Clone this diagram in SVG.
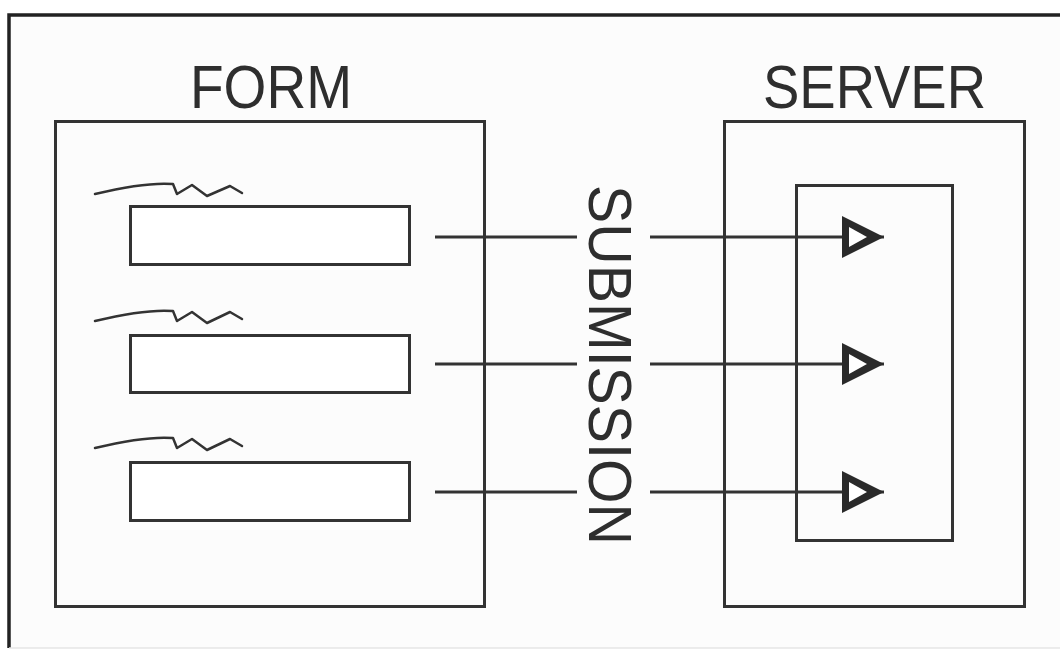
<svg xmlns="http://www.w3.org/2000/svg" width="1060" height="649" viewBox="0 0 1060 649">
<defs>
<style>
.box{fill:none;stroke:#333;stroke-width:3}
.field{fill:#fff;stroke:#333;stroke-width:3}
.scrib{fill:none;stroke:#333;stroke-width:2.5;stroke-linecap:round;stroke-linejoin:round}
.conn{fill:none;stroke:#333;stroke-width:3}
.lbl{font-family:"Liberation Sans",Arial,sans-serif;font-size:62px;fill:#2e2e2e}
</style>
<marker id="tri" markerUnits="userSpaceOnUse" markerWidth="50" markerHeight="50" viewBox="0 0 50 50" refX="42" refY="25" orient="auto">
<polygon points="0,4 42,25 0,46" fill="#2a2a2a"/>
<polygon points="7,15 25,25 7,35" fill="#fff"/>
</marker>
</defs>
<rect x="0" y="0" width="1060" height="649" fill="#fff"/>
<rect x="9" y="15" width="1051" height="633" fill="#fcfcfc"/>
<path d="M9,648 V15 H1060" fill="none" stroke="#222" stroke-width="3.5"/>
<line x1="9" y1="648" x2="1060" y2="648" stroke="#e6e6e6" stroke-width="1.5"/>
<g id="form">
<rect class="box" x="55.5" y="121.5" width="429" height="485"/>
<text class="lbl" x="271" y="108" text-anchor="middle" textLength="162" lengthAdjust="spacingAndGlyphs">FORM</text>
</g>
<g id="field1">
<path class="scrib" d="M95,194 C120,188 150,182 173,184 L177,194 L192,185 L207,196 L230,186 L242,193"/>
<rect class="field" x="130.5" y="206.5" width="279" height="58"/>
</g>
<g id="field2">
<path class="scrib" d="M95,321 C120,315 150,309 173,311 L177,321 L192,312 L207,323 L230,312 L242,319"/>
<rect class="field" x="130.5" y="335.5" width="279" height="57"/>
</g>
<g id="field3">
<path class="scrib" d="M95,448 C120,442 150,436 173,438 L177,448 L192,439 L207,450 L230,439 L242,446"/>
<rect class="field" x="130.5" y="462.5" width="279" height="58"/>
</g>
<g id="server">
<rect class="box" x="724.5" y="121.5" width="300" height="485"/>
<text class="lbl" x="874.5" y="108" text-anchor="middle" textLength="223" lengthAdjust="spacingAndGlyphs">SERVER</text>
</g>
<g id="handler">
<rect class="box" x="796.5" y="185.5" width="156" height="355"/>
</g>
<g id="submission">
<text class="lbl" transform="translate(589,365) rotate(90)" text-anchor="middle" textLength="360" lengthAdjust="spacingAndGlyphs">SUBMISSION</text>
</g>
<g id="connectors">
<line class="conn" x1="435" y1="237" x2="577" y2="237"/>
<line class="conn" x1="650" y1="237" x2="884" y2="237" marker-end="url(#tri)"/>
<line class="conn" x1="435" y1="364" x2="577" y2="364"/>
<line class="conn" x1="650" y1="364" x2="884" y2="364" marker-end="url(#tri)"/>
<line class="conn" x1="435" y1="492" x2="577" y2="492"/>
<line class="conn" x1="650" y1="492" x2="884" y2="492" marker-end="url(#tri)"/>
</g>
</svg>
